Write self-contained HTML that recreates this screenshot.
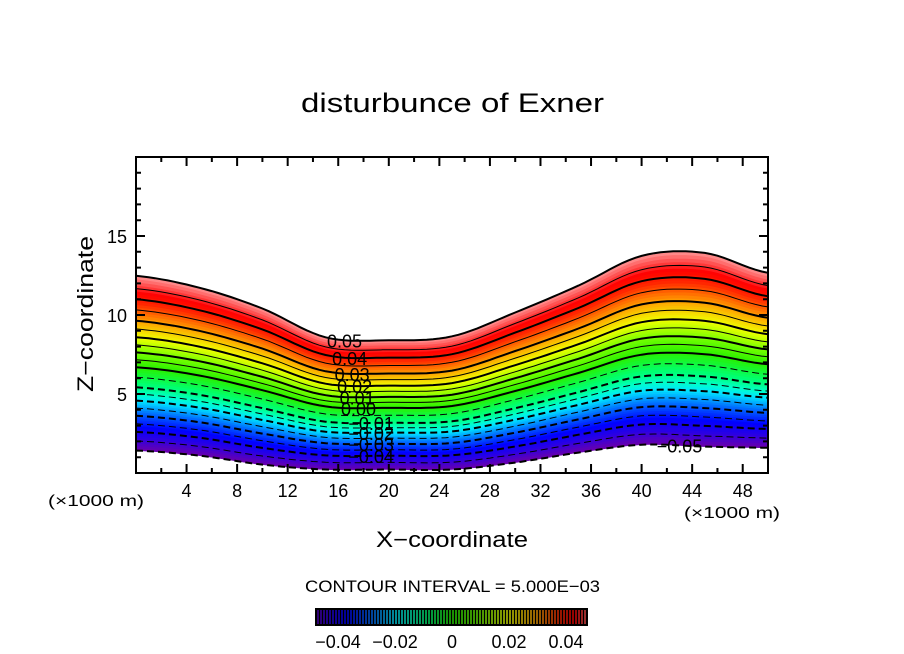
<!DOCTYPE html>
<html><head><meta charset="utf-8"><style>
html,body{margin:0;padding:0;background:#fff;}
svg{display:block;font-family:"Liberation Sans",sans-serif;}
</style></head><body>
<svg id="chart" width="904" height="654" viewBox="0 0 904 654" xmlns="http://www.w3.org/2000/svg">
<text x="301" y="112" font-size="27" textLength="303" lengthAdjust="spacingAndGlyphs">disturbunce of Exner</text>
<g id="plot"></g>
<g id="axes"></g>
<text x="376" y="547" font-size="22" textLength="152" lengthAdjust="spacingAndGlyphs">X−coordinate</text>
<text transform="translate(93,392) rotate(-90)" font-size="22" textLength="156" lengthAdjust="spacingAndGlyphs">Z−coordinate</text>
<text x="48" y="506" font-size="16" textLength="96" lengthAdjust="spacingAndGlyphs">(×1000 m)</text>
<text x="684" y="518" font-size="16" textLength="96" lengthAdjust="spacingAndGlyphs">(×1000 m)</text>
<text x="305" y="592" font-size="17" textLength="295" lengthAdjust="spacingAndGlyphs">CONTOUR INTERVAL = 5.000E−03</text>
<g id="cbar"></g>
</svg>
<script>
// ---- data ----
const profileX = [0,5,10,15,20,25,30,35,40,45,50];
const topZ =    [12.48,11.73,10.41,8.59,8.40,8.65,10.16,11.86,13.74,13.93,12.67];
const bottomZ = [1.42,1.10,0.53,0.22,0.22,0.22,0.66,1.29,1.79,1.67,1.60];
const levels = [-0.05,-0.045,-0.04,-0.035,-0.03,-0.025,-0.02,-0.015,-0.01,-0.005,0,0.005,0.01,0.015,0.02,0.025,0.03,0.035,0.04,0.045,0.05];
const levelSigma = [0,0.055,0.107,0.153,0.199,0.243,0.286,0.324,0.362,0.42,0.477,0.52,0.562,0.605,0.649,0.696,0.743,0.805,0.866,0.927,1];
const labelLevels = [0.05,0.04,0.03,0.02,0.01,0.00,-0.01,-0.02,-0.03,-0.04];
const labelTexts = ["0.05","0.04","0.03","0.02","0.01","0.00","−0.01","−0.02","−0.03","−0.04"];
const labelXs = [16.5,16.9,17.1,17.3,17.5,17.6,18.6,18.6,18.6,18.6];
const xTicks = [4,8,12,16,20,24,28,32,36,40,44,48];
const yTicks = [5,10,15];
const cbarTicks = [-0.04,-0.02,0,0.02,0.04];
const cbarTickLabels = ["−0.04","−0.02","0","0.02","0.04"];

// ---- scales ----
const PX0=136,PX1=768,PY0=157,PY1=473;
const X=x=>PX0+(x-0)/50*(PX1-PX0);
const Y=z=>PY1-(z-0)/20*(PY1-PY0);
const NS="http://www.w3.org/2000/svg";
function mk(tag,attrs,parent){const e=document.createElementNS(NS,tag);for(const k in attrs)e.setAttribute(k,attrs[k]);parent.appendChild(e);return e;}

function interp(arr,x){
  let i=Math.min(profileX.length-2,Math.max(0,Math.floor(x/5)));
  const t=(x-profileX[i])/(profileX[i+1]-profileX[i]);
  const p0=arr[Math.max(0,i-1)],p1=arr[i],p2=arr[i+1],p3=arr[Math.min(arr.length-1,i+2)];
  const t2=t*t,t3=t2*t;
  return 0.5*((2*p1)+(-p0+p2)*t+(2*p0-5*p1+4*p2-p3)*t2+(-p0+3*p1-3*p2+p3)*t3);
}
function sigmaOf(v){
  for(let i=0;i<levels.length-1;i++){
    if(v<=levels[i+1]+1e-9){const t=(v-levels[i])/(levels[i+1]-levels[i]);return levelSigma[i]+t*(levelSigma[i+1]-levelSigma[i]);}
  }
  return 1;
}
function zAt(x,s){const b=interp(bottomZ,x),t=interp(topZ,x);return b+s*(t-b);}
const stops=[[-0.05,[110,0,170]],[-0.043,[40,0,230]],[-0.037,[0,0,255]],[-0.028,[0,110,255]],[-0.02,[0,230,255]],[-0.015,[0,255,200]],[-0.008,[0,255,110]],[0.0,[40,240,0]],[0.01,[120,255,0]],[0.02,[240,255,0]],[0.03,[255,160,0]],[0.038,[255,40,0]],[0.043,[255,0,0]],[0.05,[255,150,150]]];
function col(v){
  if(v<=stops[0][0])return `rgb(${stops[0][1]})`;
  for(let i=0;i<stops.length-1;i++){
    if(v<=stops[i+1][0]){const t=(v-stops[i][0])/(stops[i+1][0]-stops[i][0]);const c=stops[i][1].map((a,k)=>Math.round(a+t*(stops[i+1][1][k]-a)));return `rgb(${c})`;}
  }
  return `rgb(${stops[stops.length-1][1]})`;
}
const xs=[];for(let x=0;x<=50.001;x+=0.5)xs.push(x);
function curve(s){return xs.map(x=>[X(x),Y(zAt(x,s))]);}
const plot=document.getElementById('plot');

// filled bands (sub-divided for smooth gradient)
const SUB=4;
for(let i=0;i<levels.length-1;i++){
  for(let k=0;k<SUB;k++){
    const v0=levels[i]+(levels[i+1]-levels[i])*k/SUB, v1=levels[i]+(levels[i+1]-levels[i])*(k+1)/SUB;
    const lo=curve(sigmaOf(v0)),hi=curve(sigmaOf(v1)+0.002);
    const pts=lo.concat(hi.reverse()).map(p=>p[0].toFixed(1)+','+p[1].toFixed(1)).join(' ');
    const pg=mk('polygon',{points:pts,fill:col((v0+v1)/2),stroke:col((v0+v1)/2),'stroke-width':0.6},plot);
    
    
  }
}
// contour lines
levels.forEach((v,i)=>{
  const major=Math.abs(Math.round(v*1000)%10)===0;
  const pts=curve(levelSigma[i]).map(p=>p[0].toFixed(1)+','+p[1].toFixed(1)).join(' ');
  const a={points:pts,fill:'none',stroke:'#000','stroke-width':(major||i===0||i===levels.length-1)?2:1};
  if(v<-1e-9)a['stroke-dasharray']='7 4';
  const pl=mk('polyline',a,plot);
  
  
});
// labels
labelLevels.forEach((v,i)=>{
  const x=labelXs[i];
  const t=mk('text',{x:X(x),y:Y(zAt(x,sigmaOf(v)))+7,'font-size':18,'text-anchor':'middle'},plot);
  t.textContent=labelTexts[i];
  
  
});
const lb=mk('text',{x:X(43),y:Y(zAt(43,0))+7,'font-size':18,'text-anchor':'middle'},plot);
lb.textContent='−0.05';



// axes
const ax=document.getElementById('axes');
const fr=mk('rect',{x:PX0,y:PY0,width:PX1-PX0,height:PY1-PY0,fill:'none',stroke:'#000','stroke-width':2},ax);


let tk='';
for(let x=1;x<50;x++){const L=(x%4===0)?9:(x%2===0?5:0);if(!L)continue;tk+=`M${X(x)},${PY1}v${-L}M${X(x)},${PY0}v${L}`;}
for(let z=1;z<20;z++){const L=(z%5===0)?9:5;tk+=`M${PX0},${Y(z)}h${L}M${PX1},${Y(z)}h${-L}`;}
const tp=mk('path',{d:tk,stroke:'#000','stroke-width':2,fill:'none'},ax);


xTicks.forEach(x=>{const t=mk('text',{x:X(x),y:497,'font-size':18,'text-anchor':'middle'},ax);t.textContent=x;

});
yTicks.forEach(z=>{const t=mk('text',{x:127,y:Y(z)+7,'font-size':18,'text-anchor':'end'},ax);t.textContent=z;

});

// colorbar
const cb=document.getElementById('cbar');
const CX=v=>452+v*2850;
const bg=mk('rect',{x:315,y:608,width:273,height:18,fill:'#000'},cb);


for(let x=318;x<587;x+=3){
  const v=(x-452)/2850;
  const l=mk('line',{x1:x,x2:x,y1:610,y2:624,stroke:col(v),'stroke-width':1.2},cb);
  
  
}
cbarTicks.forEach((v,i)=>{const t=mk('text',{x:CX(v),y:648,'font-size':18,'text-anchor':'middle'},cb);t.textContent=cbarTickLabels[i];

});
</script>
</body></html>
